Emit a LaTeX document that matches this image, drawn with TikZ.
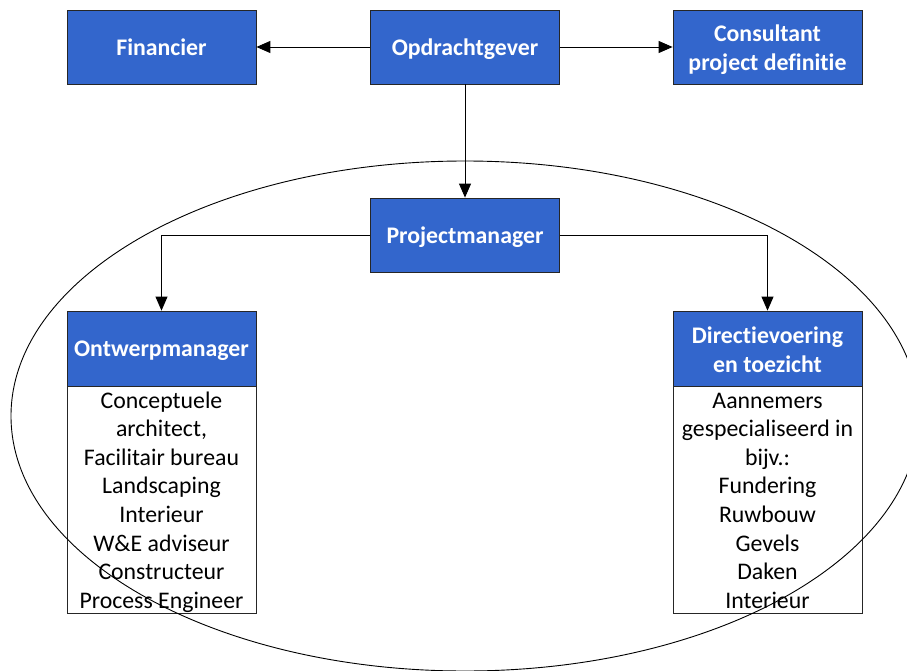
\documentclass[tikz,border=0pt]{standalone}
\usepackage{fontspec}
\setmainfont{Carlito}[Ligatures=NoCommon]
\usetikzlibrary{arrows.meta}
\definecolor{boxblue}{HTML}{3366CC}
\begin{document}
\begin{tikzpicture}[x=1pt,y=-1pt,
  bluebox/.style={draw=black!85, fill=boxblue, line width=0.8pt, minimum width=189pt,
    minimum height=74pt, inner sep=0pt, text=white,
    font=\fontsize{23.8}{29}\selectfont\bfseries, align=center},
  flat/.style={text depth=0pt},
  bodybox/.style={draw=black!85, fill=white, line width=0.8pt, minimum width=189pt,
    minimum height=227pt, inner sep=0pt},
  conn/.style={draw=black, line width=0.9pt, -{Triangle[length=14pt,width=12pt]}},
  bodytext/.style={font=\fontsize{23.8}{28.6}\selectfont, anchor=base, inner sep=0pt}]
\useasboundingbox (0,0) rectangle (907,671);
% top row
\node[bluebox] (fin) at (161.5,47) {Financier};
\node[bluebox, flat] (opd) at (465,47) {Opdrachtgever};
\node[bluebox] (con) at (767.5,47) {\rule{0pt}{23pt}Consultant\\project definitie};
\node[bluebox, flat] (pm) at (465,235) {Projectmanager};
% lower boxes
\node[bodybox] (ombody) at (161.5,499.5) {};
\node[bluebox, flat, minimum height=75pt] (om) at (161.5,348.5) {Ontwerpmanager};
\node[bodybox] (dvbody) at (767.5,499.5) {};
\node[bluebox, minimum height=75pt] (dv) at (767.5,348.5) {\rule{0pt}{19pt}Directievoering\\en toezicht};
\node[bodytext] (omtext) at (161.5,408) {\begin{tabular}[t]{@{}c@{}}Conceptuele\\architect,\\Facilitair bureau\\Landscaping\\Interieur\\W\&E adviseur\\Constructeur\\Process Engineer\end{tabular}};
\node[bodytext] (dvtext) at (767.5,408) {\begin{tabular}[t]{@{}c@{}}Aannemers\\gespecialiseerd in\\bijv.:\\Fundering\\Ruwbouw\\Gevels\\Daken\\Interieur\end{tabular}};
% connectors
\draw[conn] (opd.west) -- (fin.east);
\draw[conn] (opd.east) -- (con.west);
\draw[conn] (opd.south) -- (pm.north);
\draw[conn] (pm.west) -| (om.north);
\draw[conn] (pm.east) -| (dv.north);
% ellipse
\begin{scope}
\clip (0,0) rectangle (907,671);
\draw[line width=0.9pt] (465,416) ellipse [x radius=454pt, y radius=255pt];
\end{scope}
\end{tikzpicture}
\end{document}
